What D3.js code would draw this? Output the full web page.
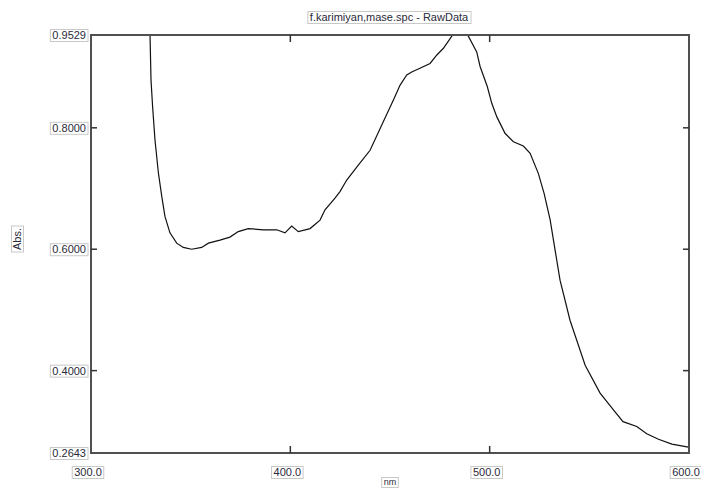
<!DOCTYPE html>
<html><head><meta charset="utf-8">
<script src="https://cdn.jsdelivr.net/npm/d3@7"></script>
<style>html,body{margin:0;padding:0;background:#fff;overflow:hidden}svg{display:block}</style>
</head><body>
<svg id="c" width="701" height="488"></svg>
<script>
const wavelength = [329.3,330.1,330.9,332.1,333.8,335.5,337.1,339.6,343.0,346.3,350.5,355.5,358.9,364.7,369.7,373.9,378.9,386.5,393.2,397.3,400.7,404.0,409.9,414.9,417.4,422.4,424.9,428.3,434,440,447.5,452,455,458.4,460.9,465.0,470.1,473.5,476.8,481.0,485,489.3,493.5,495.2,498.8,501.1,503.6,507.7,511.9,516.9,520.3,524.4,527.3,530.3,535.3,540.3,547.9,555.4,562.9,566.9,573.8,578.8,584.7,591.4,599.7];
const absorbance = [1.000,0.879,0.835,0.780,0.726,0.687,0.654,0.627,0.610,0.603,0.600,0.603,0.610,0.615,0.620,0.629,0.634,0.632,0.632,0.627,0.638,0.629,0.634,0.648,0.665,0.684,0.695,0.714,0.738,0.763,0.816,0.848,0.870,0.887,0.892,0.898,0.906,0.920,0.931,0.951,0.965,0.951,0.925,0.901,0.868,0.840,0.818,0.791,0.777,0.770,0.758,0.725,0.692,0.649,0.549,0.483,0.409,0.363,0.332,0.316,0.308,0.296,0.287,0.279,0.274];
const xTickValues = [300,400,500,600];
const xTickLabels = ["300.0","400.0","500.0","600.0"];
const yTickValues = [0.9529,0.8,0.6,0.4,0.2643];
const yTickLabels = ["0.9529","0.8000","0.6000","0.4000","0.2643"];
const xInner = [400,500];
const yInner = [0.8,0.6,0.4];
const title = "f.karimiyan,mase.spc - RawData";
const xTitle = "nm";
const yTitle = "Abs.";

const svg = d3.select("#c");
const L=91,T=35,R=689,B=453;
const x = d3.scaleLinear().domain([300,600]).range([L,R]);
const y = d3.scaleLinear().domain([0.2643,0.9529]).range([B,T]);
const font = "'Liberation Sans', Arial, sans-serif";

svg.append("clipPath").attr("id","clip").append("rect")
  .attr("x",L).attr("y",T).attr("width",R-L).attr("height",B-T);

const data = wavelength.map((w,i)=>[w,absorbance[i]]);
svg.append("path").datum(data).attr("clip-path","url(#clip)")
  .attr("fill","none").attr("stroke","#111").attr("stroke-width",1.2)
  .attr("d",d3.line().x(d=>x(d[0])).y(d=>y(d[1])));

// frame
svg.append("rect").attr("x",L).attr("y",T).attr("width",R-L).attr("height",B-T)
  .attr("fill","none").attr("stroke","#505050").attr("stroke-width",2);

// inner ticks
const tk = svg.append("g").attr("stroke","#333").attr("stroke-width",1.5);
xInner.forEach(v=>{
  tk.append("line").attr("x1",x(v)).attr("x2",x(v)).attr("y1",B).attr("y2",B-7);
  tk.append("line").attr("x1",x(v)).attr("x2",x(v)).attr("y1",T).attr("y2",T+7);
});
yInner.forEach(v=>{
  tk.append("line").attr("x1",L).attr("x2",L+6).attr("y1",y(v)).attr("y2",y(v));
  tk.append("line").attr("x1",R).attr("x2",R-6).attr("y1",y(v)).attr("y2",y(v));
});

function boxed(g, txt, tx, ty, anchor, rot, size){
  const grp = g.append("g").attr("transform",`translate(${tx},${ty})${rot?" rotate("+rot+")":""}`);
  const rect = grp.append("rect");
  const t = grp.append("text").attr("font-family",font).attr("font-size",size||11)
    .attr("fill","#2a2a3a").attr("text-anchor",anchor).text(txt);
  const bb = t.node().getBBox();
  rect.attr("x",bb.x-2).attr("y",bb.y+0.5).attr("width",bb.width+4).attr("height",bb.height)
    .attr("fill","#fff").attr("stroke","#c8c8c8").attr("stroke-width",1);
  return grp;
}
const lab = svg.append("g");
yTickValues.forEach((v,i)=>{
  boxed(lab, yTickLabels[i], 86, y(v)+4, "end");
});
xTickValues.forEach((v,i)=>{
  boxed(lab, xTickLabels[i], x(v)-3, 476, "middle");
});
boxed(lab, title, 389, 21, "middle");
boxed(lab, xTitle, 390, 485, "middle", 0, 9);
boxed(lab, yTitle, 21, 239, "middle", -90);
</script>
</body></html>
